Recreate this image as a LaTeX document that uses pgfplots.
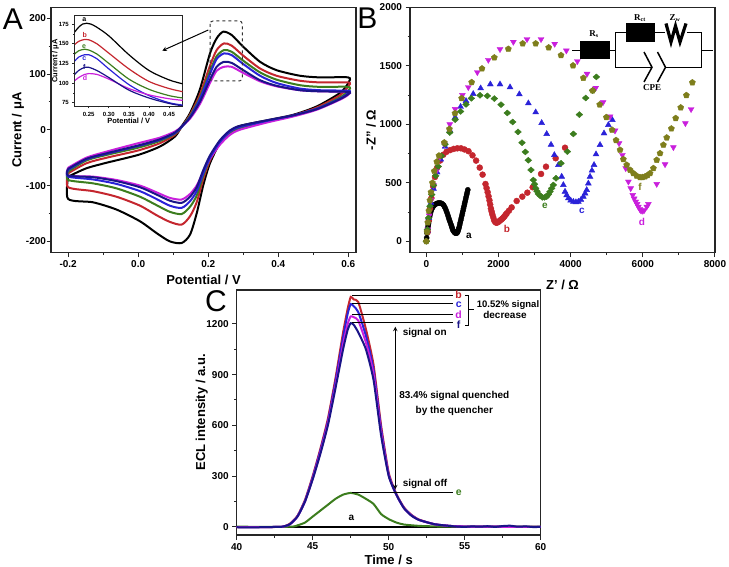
\documentclass[border=0pt]{standalone}
\usepackage{pgfplots}
\pgfplotsset{compat=1.18}
\usepackage{fontspec}
\setmainfont{Liberation Sans}
\newfontfamily\serifb{Liberation Serif}
\definecolor{ca}{HTML}{000000}
\definecolor{cb}{HTML}{C4262E}
\definecolor{cc}{HTML}{2A22D8}
\definecolor{cd}{HTML}{C91FDC}
\definecolor{ce}{HTML}{3C7D1E}
\definecolor{cf}{HTML}{1A1488}
\definecolor{co}{HTML}{7E7E1C}
\pgfplotsset{
  base/.style={
    scale only axis, axis on top=false,
    axis line style={line width=1.2pt,black!85},
    tick style={line width=1pt,black!85},
    tick align=outside, tick pos=left,
    major tick length=4.5pt, minor tick length=2.5pt,
    /pgf/number format/assume math mode=true,
    /pgf/number format/fixed,
    /pgf/number format/1000 sep={},
    tick label style={font=\fontsize{10}{12}\selectfont\bfseries},
    label style={font=\fontsize{13}{15}\selectfont\bfseries},
    minor tick num=1, clip=true,
  },
  cv/.style={smooth,tension=0.45,line width=2pt,no marks},
  ins/.style={smooth,tension=0.5,line width=1.2pt,no marks},
  eis/.style={only marks,mark size=#1},
  ecl/.style={smooth,tension=0.35,line width=2pt,no marks},
}
\begin{document}
\begin{tikzpicture}
\useasboundingbox (0,0) rectangle (729pt,566pt);
%% Panel A
\begin{axis}[base,at={(51pt,313.3pt)},anchor=south west,width=305pt,height=245.2pt,
  xmin=-0.249,xmax=0.622,ymin=-220.4,ymax=219.4,
  xtick={-0.2,0,0.2,0.4,0.6},ytick={-200,-100,0,100,200},
  xticklabel style={/pgf/number format/fixed zerofill,/pgf/number format/precision=1},
  yticklabel style={xshift=3pt},
  xlabel={Potential / V},ylabel={Current / μA},
  x label style={at={(axis description cs:0.5,0)},anchor=center,yshift=-27pt},
  y label style={at={(axis description cs:0,0.5)},anchor=center,yshift=33pt}]
\addplot[cv,ca] coordinates {(-.2,-84)(-.148,-69)(-.09,-59)(0,-45)(.062,-30)(.105,-12)(.124,6)(.148,30)(.176,72)(.205,137)(.224,164)(.243,176)(.267,170)(.3,149)(.348,122)(.395,107)(.462,97)(.52,94)(.6,94)(.6,84)(.576,66)(.51,42)(.443,27)(.367,17)(.29,7)(.262,-3)(.233,-24)(.205,-60)(.186,-99)(.167,-150)(.148,-188)(.124,-203)(.09,-200)(.052,-185)(.005,-164)(-.062,-143)(-.129,-130)(-.2,-124)(-.2,-84)};
\addplot[cv,cb] coordinates {(-.2,-78)(-.148,-60)(-.09,-50)(0,-37)(.062,-24)(.105,-9)(.124,5)(.148,27)(.176,63)(.205,115)(.224,143)(.245,155)(.267,151)(.3,133)(.348,110)(.395,97)(.462,88)(.52,85)(.6,85)(.6,78)(.576,62)(.51,40)(.443,26)(.367,16)(.29,5)(.262,-4)(.233,-24)(.205,-55)(.186,-88)(.167,-130)(.148,-155)(.124,-170)(.09,-165)(.052,-153)(.005,-136)(-.062,-120)(-.129,-110)(-.2,-103)(-.2,-78)};
\addplot[cv,ce] coordinates {(-.2,-75)(-.148,-55)(-.09,-45)(0,-32)(.062,-20)(.105,-7)(.124,5)(.148,25)(.176,58)(.205,105)(.224,132)(.245,143)(.267,140)(.3,124)(.348,103)(.395,90)(.462,80)(.52,77)(.6,77)(.6,70)(.576,58)(.51,38)(.443,25)(.367,15)(.29,3)(.262,-6)(.233,-25)(.205,-52)(.186,-82)(.167,-118)(.148,-138)(.124,-151)(.09,-147)(.052,-135)(.005,-120)(-.062,-105)(-.129,-96)(-.2,-90)(-.2,-75)};
\addplot[cv,cd] coordinates {(-.2,-68)(-.148,-50)(-.09,-39)(0,-24)(.062,-14)(.105,-3)(.124,6)(.148,20)(.176,46)(.205,84)(.224,106)(.245,113)(.267,113)(.3,102)(.348,87)(.395,78)(.462,71)(.52,69)(.6,68)(.6,63)(.576,54)(.51,36)(.443,24)(.367,13)(.29,0)(.262,-9)(.233,-27)(.205,-52)(.186,-75)(.167,-100)(.148,-115)(.124,-125)(.09,-122)(.052,-112)(.005,-100)(-.062,-90)(-.129,-84)(-.2,-82)(-.2,-68)};
\addplot[cv,cc] coordinates {(-.2,-72)(-.148,-53)(-.09,-43)(0,-29)(.062,-18)(.105,-6)(.124,5)(.148,23)(.176,55)(.205,100)(.224,127)(.245,137)(.267,134)(.3,118)(.348,97)(.395,84)(.462,74)(.52,71)(.6,70)(.6,66)(.576,56)(.51,38)(.443,26)(.367,16)(.29,5)(.262,-3)(.233,-22)(.205,-50)(.186,-78)(.167,-110)(.148,-128)(.124,-140)(.09,-136)(.052,-124)(.005,-110)(-.062,-97)(-.129,-89)(-.2,-84)(-.2,-72)};
\addplot[cv,cf] coordinates {(-.2,-70)(-.148,-52)(-.09,-42)(0,-28)(.062,-17)(.105,-5)(.124,6)(.148,22)(.176,50)(.205,90)(.224,113)(.245,122)(.267,120)(.3,107)(.348,89)(.395,79)(.462,71)(.52,69)(.6,68)(.6,64)(.576,55)(.51,37)(.443,26)(.367,17)(.29,7)(.262,-1)(.233,-19)(.205,-46)(.186,-72)(.167,-103)(.148,-120)(.124,-131)(.09,-127)(.052,-116)(.005,-103)(-.062,-92)(-.129,-85)(-.2,-82)(-.2,-70)};
\end{axis}
%% Inset of A
\begin{axis}[base,at={(74.8pt,460pt)},anchor=south west,width=107.9pt,height=90.3pt,
  xmin=0.2153,xmax=0.484,ymin=70.8,ymax=185.6,
  xtick={0.25,0.30,0.35,0.40,0.45},ytick={75,100,125,150,175},
  major tick length=2.5pt,minor tick length=1.5pt,
  axis line style={line width=0.9pt,black!85},tick style={line width=0.7pt,black!85},
  tick label style={font=\fontsize{6}{7}\selectfont\bfseries},
  xticklabel style={/pgf/number format/fixed zerofill,/pgf/number format/precision=2},
  label style={font=\fontsize{7.5}{9}\selectfont\bfseries},
  xlabel={Potential / V},ylabel={Current / μA},
  x label style={at={(axis description cs:0.5,0)},anchor=center,yshift=-15pt},
  y label style={at={(axis description cs:0,0.5)},anchor=center,yshift=19.5pt}]
\addplot[ins,ca] coordinates {(.2153,165)(.225,171)(.235,175)(.245,176)(.255,175)(.27,171)(.30,160)(.35,136)(.40,116)(.45,104)(.484,99)};
\addplot[ins,cb] coordinates {(.2153,149)(.225,153)(.24,155.5)(.25,155)(.27,150)(.30,138)(.35,118)(.40,102)(.45,93)(.484,89)};
\addplot[ins,ce] coordinates {(.2153,137)(.225,141)(.24,143)(.25,142)(.27,137)(.30,125)(.35,105)(.40,92)(.45,84)(.484,81)};
\addplot[ins,cc] coordinates {(.2153,128)(.225,133)(.24,136)(.25,136)(.27,131)(.30,118)(.35,98)(.40,84)(.45,75)(.484,72)};
\addplot[ins,cd] coordinates {(.2153,103)(.225,107)(.24,111)(.25,112)(.27,111)(.30,105)(.35,93)(.40,85)(.45,80)(.484,78)};
\addplot[ins,cf] coordinates {(.2153,111)(.225,116)(.24,120)(.25,120)(.27,116)(.30,107)(.35,91)(.40,81)(.45,74)(.484,71)};
\end{axis}
%% Panel B
\begin{axis}[base,at={(410pt,313.3pt)},anchor=south west,width=305pt,height=245.4pt,
  xmin=-452,xmax=8000,ymin=-97,ymax=2000,
  xtick={0,2000,4000,6000,8000},ytick={0,500,1000,1500,2000},
  xlabel={Z' / Ω},ylabel={-Z'' / Ω},
  x label style={at={(axis description cs:0.5,0)},anchor=center,yshift=-32pt},
  y label style={at={(axis description cs:0,0.5)},anchor=center,yshift=39pt}]
\addplot[eis=2.6pt,mark=*,ca,mark options={fill=ca,draw=ca}] coordinates {(0,0)(10,30)(20,70)(30,90)(40,110)(50,130)(60,150)(70,170)(80,190)(90,208)(100,225)(115,243)(130,260)(150,275)(170,290)(195,300)(220,310)(250,316)(280,322)(315,326)(350,328)(385,327)(420,325)(450,318)(480,310)(505,295)(530,280)(555,260)(580,240)(600,220)(620,200)(640,182)(660,165)(680,147)(700,130)(715,115)(730,100)(750,90)(770,80)(790,74)(810,70)(830,70)(850,72)(865,80)(880,90)(895,105)(910,120)(925,140)(940,160)(955,180)(970,200)(985,220)(1000,240)(1015,260)(1030,280)(1045,300)(1060,320)(1075,340)(1090,360)(1105,380)(1120,400)(1135,420)(1150,440)};
\addplot[eis=3pt,mark=*,cb,mark options={fill=cb,draw=cb}] coordinates {(40,80)(70,180)(100,280)(140,370)(190,470)(240,550)(300,630)(380,690)(470,740)(560,765)(660,780)(760,790)(860,795)(960,795)(1060,785)(1170,770)(1280,735)(1380,690)(1480,630)(1560,570)(1640,490)(1670,455)(1700,420)(1725,385)(1750,350)(1770,315)(1790,280)(1810,255)(1830,230)(1855,205)(1880,180)(1905,168)(1930,160)(1960,160)(1990,165)(2020,172)(2050,180)(2080,187)(2110,195)(2140,205)(2170,215)(2200,228)(2230,240)(2290,262)(2365,290)(2504,345)(2660,382)(2800,416)(2947,462)(3180,576)(3317,638)(3585,710)(3844,800)};
\addplot[eis=3.4pt,mark=triangle*,cc,mark options={fill=cc,draw=cc}] coordinates {(30,90)(70,200)(130,330)(200,450)(300,590)(400,700)(520,810)(650,950)(800,1060)(950,1150)(1100,1200)(1300,1260)(1506,1308)(1774,1342)(2042,1342)(2320,1317)(2578,1257)(2828,1180)(3031,1103)(3197,1012)(3336,918)(3456,826)(3548,738)(3660,653)(3752,553)(3798,482)(3844,425)(3890,395)(3936,368)(4000,350)(4075,339)(4145,335)(4214,339)(4285,355)(4352,382)(4400,410)(4445,439)(4490,495)(4537,553)(4590,605)(4648,653)(4703,744)(4814,824)(4925,923)(5045,995)(5156,1037)};
\addplot[eis=3.4pt,mark=triangle*,cd,mark options={fill=cd,draw=cd,rotate=180}] coordinates {(40,100)(80,220)(130,350)(200,480)(280,600)(380,720)(500,830)(650,1000)(800,1130)(1000,1250)(1164,1317)(1414,1445)(1719,1550)(2042,1642)(2412,1704)(2790,1727)(3179,1727)(3557,1687)(3881,1630)(4186,1539)(4454,1431)(4694,1311)(4897,1188)(5091,1066)(5230,946)(5341,838)(5433,738)(5526,624)(5600,510)(5664,453)(5720,396)(5760,365)(5803,339)(5840,318)(5877,296)(5915,275)(5951,262)(6000,260)(6043,268)(6108,296)(6154,319)(6385,490)(6616,658)(6847,804)(7180,1009)(7337,1129)};
\addplot[eis=3pt,mark=diamond*,ce,mark options={fill=ce,draw=ce,xscale=1.5}] coordinates {(0,0)(30,100)(60,200)(100,300)(150,400)(200,480)(260,560)(330,640)(420,730)(520,830)(650,930)(800,1040)(950,1110)(1100,1170)(1247,1222)(1488,1248)(1691,1243)(1885,1220)(2070,1168)(2245,1097)(2393,1020)(2541,935)(2652,843)(2744,764)(2827,693)(2901,610)(2966,524)(3000,488)(3031,453)(3068,428)(3105,405)(3160,388)(3216,376)(3276,376)(3336,382)(3385,402)(3428,425)(3475,453)(3520,482)(3594,539)(3733,667)(3909,767)(4075,918)(4241,1083)(4417,1225)(4610,1288)(4712,1405)};
\addplot[eis=3.2pt,mark=pentagon*,co,mark options={fill=co,draw=co}] coordinates {(0,0)(20,80)(40,160)(70,260)(100,350)(130,420)(170,500)(220,600)(290,680)(351,732)(499,844)(640,960)(795,1094)(979,1222)(1257,1359)(1543,1476)(1885,1570)(2273,1644)(2671,1690)(3031,1690)(3391,1656)(3733,1590)(4066,1502)(4352,1396)(4610,1288)(4805,1168)(4990,1060)(5147,952)(5258,864)(5369,781)(5461,701)(5553,653)(5646,610)(5738,581)(5830,559)(5923,547)(5990,548)(6062,553)(6130,565)(6200,581)(6293,624)(6385,695)(6477,752)(6570,824)(6662,886)(6791,963)(6911,1052)(7050,1143)(7207,1248)(7373,1357)};
\end{axis}
%% Panel C
\begin{axis}[base,at={(236.7pt,31pt)},anchor=south west,width=304pt,height=245pt,
  xmin=40,xmax=60,ymin=-49,ymax=1401,
  xtick={40,45,50,55,60},ytick={0,300,600,900,1200},
  xlabel={Time / s},ylabel={ECL intensity / a.u.},
  x label style={at={(axis description cs:0.5,0)},anchor=center,yshift=-25pt},
  y label style={at={(axis description cs:0,0.5)},anchor=center,yshift=35pt}]
\addplot[line width=2.4pt,ca,no marks] coordinates {(40,0)(60,0)};
\addplot[ecl,ce] coordinates {(40,0)(43.5,0)(44,8)(44.5,25)(45,60)(45.5,95)(46,130)(46.5,165)(47,190)(47.5,200)(48,190)(48.5,165)(49,135)(49.5,75)(50,45)(50.5,25)(51,13)(52,5)(53,2)(54,0)(60,0)};
\addplot[ecl,cb] coordinates {(40,-2)(41,-3)(42,-2)(43,0)(43.5,18)(44,65)(44.5,160)(45,300)(45.5,460)(46,640)(46.5,880)(47,1150)(47.3,1290)(47.5,1360)(47.7,1345)(48,1330)(48.5,1170)(49,960)(49.5,600)(50,320)(50.5,195)(51,115)(51.5,70)(52,42)(53,15)(54,5)(55,1)(57,0)(60,-1)};
\addplot[ecl,cc] coordinates {(40,-2)(41,-3)(42,-2)(43,0)(43.5,15)(44,62)(44.5,155)(45,292)(45.5,450)(46,625)(46.5,860)(47,1120)(47.3,1260)(47.5,1318)(47.7,1305)(48,1270)(48.5,1130)(49,930)(49.5,580)(50,310)(50.5,190)(51,112)(51.5,68)(52,40)(53,15)(54,5)(55,1)(57,0)(60,-1)};
\addplot[ecl,cd] coordinates {(40,-2)(41,-3)(42,-2)(43,0)(43.5,14)(44,60)(44.5,150)(45,285)(45.5,438)(46,612)(46.5,835)(47,1080)(47.3,1200)(47.5,1245)(47.7,1240)(48,1220)(48.5,1090)(49,905)(49.5,560)(50,305)(50.5,190)(51,110)(51.5,66)(52,40)(53,15)(54,5)(55,1)(57,0)(60,-1)};
\addplot[ecl,cf] coordinates {(40,-3)(41,-4)(42,-2)(43,0)(43.5,15)(44,60)(44.5,150)(45,280)(45.5,430)(46,600)(46.5,820)(47,1050)(47.3,1165)(47.5,1205)(47.7,1195)(48,1150)(48.5,1050)(49,870)(49.5,540)(50,300)(50.5,190)(51,110)(51.5,65)(52,40)(53,15)(54,5)(54.5,1)(55,-1)(55.5,2)(56,0)(56.5,3)(57,-1)(57.5,4)(58,6)(58.5,0)(59,2)(59.5,-2)(60,-1)};
\end{axis}
%% Annotations in pixel coordinates
\begin{scope}[shift={(0,566pt)},x=1pt,y=-1pt,font=\bfseries]
\node[font=\fontsize{30}{30}\selectfont] at (13,19) {A};
\node[font=\fontsize{30}{30}\selectfont] at (367.5,18) {B};
\node[font=\fontsize{30}{30}\selectfont] at (216,301) {C};
% A
\draw[dashed,line width=1pt,rounded corners=3pt,black!80] (210,21) rectangle (242.3,81);
\draw[-stealth,line width=1pt] (208.3,30) -- (162.3,50.7);
\begin{scope}[font=\fontsize{7}{8}\selectfont\bfseries]
\node[ca] at (84.3,19.3) {a};
\node[cb] at (84.7,35) {b};
\node[ce] at (84,46.3) {e};
\node[cc] at (84.3,58.3) {c};
\node[cf] at (84.3,67.3) {f};
\node[cd] at (85,77.7) {d};
\end{scope}
% B labels
\begin{scope}[font=\fontsize{10}{12}\selectfont\bfseries]
\node[ca] at (469,236) {a};
\node[cb] at (507,229) {b};
\node[cc] at (582,211) {c};
\node[cd] at (642,222) {d};
\node[ce] at (545,206) {e};
\node[co] at (640,187) {f};
\end{scope}
% circuit
\draw[line width=0.8pt] (572,50) -- (581,50);
\fill (580,41) rectangle (610,59);
\draw[line width=0.8pt] (610,50) -- (615.7,50);
\draw[line width=0.8pt] (615.7,32.3) -- (615.7,67.3) -- (651,67.3);
\draw[line width=0.8pt] (665,67.3) -- (701.7,67.3) -- (701.7,32.3) -- (687,32.3);
\draw[line width=0.8pt] (615.7,32.3) -- (626,32.3);
\fill (625.7,23.3) rectangle (655,41.7);
\draw[line width=0.8pt] (655,32.3) -- (665,32.3);
\draw[line width=3.2pt,line join=miter] (666,23.5) -- (671,42) -- (675.5,26) -- (680,42) -- (686,23.5);
\draw[line width=0.8pt] (701.7,50) -- (713,50);
\draw[line width=1.5pt] (644,52) -- (652,67.3) -- (644,82);
\draw[line width=1.5pt] (657.5,52) -- (665.5,67.3) -- (657.5,82);
\begin{scope}[font=\fontsize{9}{10}\selectfont\serifb\bfseries]
\node at (594,34) {R\textsubscript{s}};
\node at (640,18) {R\textsubscript{ct}};
\node at (675,18) {Z\textsubscript{w}};
\node at (652,88) {CPE};
\end{scope}
% C
\begin{scope}[line width=1pt]
\draw (351.7,295.7) -- (453.3,295.7);
\draw (351.7,304) -- (453.3,304);
\draw (351.7,315) -- (453.3,315);
\draw (351.7,322.7) -- (453.3,322.7);
\draw (351.7,492.3) -- (453.3,492.3);
\draw (465,295.5) -- (468,295.5) -- (468,326) -- (465,326);
\draw (468,310) -- (474,310);
\draw[stealth-stealth] (395.3,326.7) -- (395.3,489.3);
\end{scope}
\begin{scope}[font=\fontsize{10.5}{12}\selectfont\bfseries,inner sep=0pt]
\node[cb] at (458.7,294.5) {b};
\node[cc] at (458.7,305) {c};
\node[cd] at (458.7,314.5) {d};
\node[cf] at (458.7,324.5) {f};
\node[ce] at (458.7,492.5) {e};
\end{scope}
\begin{scope}[font=\fontsize{10}{11}\selectfont\bfseries]
\node[font=\fontsize{9.5}{11}\selectfont\bfseries] at (508,305) {10.52\% signal};
\node at (505,315) {decrease};
\node at (424.7,332.7) {signal on};
\node at (425,484.3) {signal off};
\node at (454.3,396.3) {83.4\% signal quenched};
\node at (454.3,411) {by the quencher};
\end{scope}
\node[font=\fontsize{10}{12}\selectfont\bfseries] at (351.3,517.7) {a};
\end{scope}
\end{tikzpicture}
\end{document}
